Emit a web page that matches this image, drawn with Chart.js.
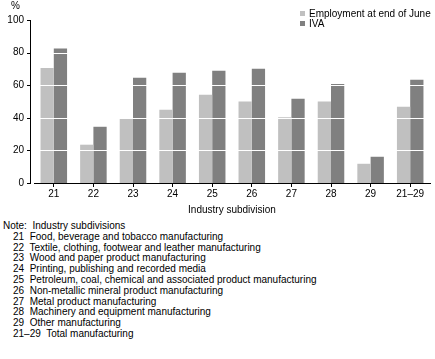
<!DOCTYPE html>
<html>
<head>
<meta charset="utf-8">
<script src="https://cdn.jsdelivr.net/npm/chart.js@4/dist/chart.umd.min.js"></script>
<style>
  html, body { margin: 0; padding: 0; background: #fff; }
  #wrap { position: relative; width: 435px; height: 359px; font-family: "Liberation Sans", Arial, sans-serif; font-size: 10px; color: #000; }
  canvas { position: absolute; left: 0; top: 0; }
  .abs { position: absolute; white-space: nowrap; line-height: 10px; }
  .sw { display: inline-block; width: 5px; height: 5px; margin-right: 4px; vertical-align: 1px; }
  #notes { position: absolute; left: 3px; top: 221px; line-height: 10.8px; white-space: pre; }
</style>
</head>
<body>
<div id="wrap">
  <canvas id="c" width="435" height="218"></canvas>
  <div class="abs" id="pct" style="left:11px; top:1px;">%</div>
  <div class="abs" id="legend" style="left:300px; top:9px;"></div>
  <div id="notes"></div>
</div>
<script>
const categories = ['21', '22', '23', '24', '25', '26', '27', '28', '29', '21–29'];
const employment = [70.5, 23.5, 39.4, 45.0, 54.2, 50.0, 40.3, 50.0, 11.8, 46.8];
const iva = [82.5, 34.5, 64.6, 67.7, 68.9, 70.1, 51.7, 60.7, 16.1, 63.4];
const seriesNames = ['Employment at end of June', 'IVA'];
const seriesColors = ['#c0c0c0', '#808080'];
const yTicks = [0, 20, 40, 60, 80, 100];
const xTitle = 'Industry subdivision';
const noteTitle = 'Note:  Industry subdivisions';
const noteCodes = ['21', '22', '23', '24', '25', '26', '27', '28', '29', '21–29'];
const noteNames = [
  'Food, beverage and tobacco manufacturing',
  'Textile, clothing, footwear and leather manufacturing',
  'Wood and paper product manufacturing',
  'Printing, publishing and recorded media',
  'Petroleum, coal, chemical and associated product manufacturing',
  'Non-metallic mineral product manufacturing',
  'Metal product manufacturing',
  'Machinery and equipment manufacturing',
  'Other manufacturing',
  'Total manufacturing'
];

// legend
const leg = document.getElementById('legend');
seriesNames.forEach((n, i) => {
  const d = document.createElement('div');
  d.innerHTML = '<span class="sw" style="background:' + seriesColors[i] + '"></span>' + n;
  leg.appendChild(d);
});
// notes
const notes = document.getElementById('notes');
const t = document.createElement('div'); t.textContent = noteTitle; notes.appendChild(t);
noteCodes.forEach((c, i) => {
  const d = document.createElement('div');
  d.style.paddingLeft = '10px';
  d.textContent = c + '  ' + noteNames[i];
  notes.appendChild(d);
});

const FONT = { family: '"Liberation Sans", Arial, sans-serif', size: 10 };

const axisPlugin = {
  id: 'axisPlugin',
  afterDatasetsDraw(chart) {
    const { ctx, chartArea: a, scales: { y } } = chart;
    ctx.save();
    ctx.strokeStyle = '#ffffff';
    ctx.lineWidth = 1;
    yTicks.forEach(v => {
      if (v === 0) return;
      const py = Math.round(y.getPixelForValue(v)) + 0.5;
      ctx.beginPath(); ctx.moveTo(a.left, py); ctx.lineTo(a.right, py); ctx.stroke();
    });
    ctx.restore();
  },
  afterDraw(chart) {
    const { ctx, chartArea: a, scales: { y } } = chart;
    const ax = a.left - 4 + 0.5;
    ctx.save();
    ctx.strokeStyle = '#000';
    ctx.lineWidth = 1;
    ctx.beginPath();
    ctx.moveTo(ax, Math.round(y.getPixelForValue(100)));
    ctx.lineTo(ax, Math.round(y.getPixelForValue(0)) + 1);
    ctx.stroke();
    yTicks.forEach(v => {
      const py = Math.round(y.getPixelForValue(v)) + 0.5;
      ctx.beginPath(); ctx.moveTo(ax - 3.5, py); ctx.lineTo(ax, py); ctx.stroke();
    });
    ctx.restore();
  }
};

new Chart(document.getElementById('c'), {
  type: 'bar',
  data: {
    labels: categories,
    datasets: [
      { label: seriesNames[0], data: employment, backgroundColor: seriesColors[0] },
      { label: seriesNames[1], data: iva, backgroundColor: seriesColors[1] }
    ]
  },
  options: {
    responsive: false,
    devicePixelRatio: 1,
    animation: false,
    layout: { padding: { top: 20, right: 5, left: 0, bottom: 0 } },
    datasets: { bar: { categoryPercentage: 0.67, barPercentage: 1.0, borderWidth: 0 } },
    plugins: { legend: { display: false }, tooltip: { enabled: false } },
    scales: {
      x: {
        grid: { display: true, drawOnChartArea: false, offset: false, tickLength: 4, color: '#000' },
        border: { display: true, color: '#000' },
        ticks: { font: FONT, color: '#000', padding: 1, maxRotation: 0 },
        title: { display: true, text: xTitle, font: FONT, color: '#000', padding: { top: 2, bottom: 2 } },
        afterFit(s) { s.height = 35; }
      },
      y: {
        min: 0, max: 100,
        afterBuildTicks(s) { s.ticks = yTicks.map(v => ({ value: v })); },
        grid: { display: false, drawTicks: false },
        border: { display: false },
        ticks: { font: FONT, color: '#000', padding: 10 },
        afterFit(s) { s.width = 34; }
      }
    }
  },
  plugins: [axisPlugin]
});
</script>
</body>
</html>
